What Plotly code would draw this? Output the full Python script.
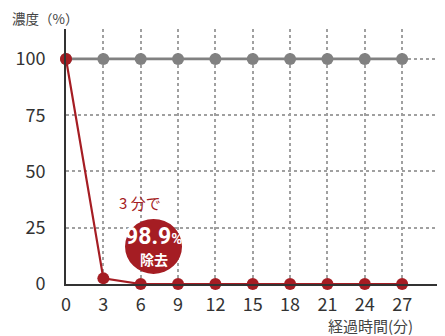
import plotly.graph_objects as go

minutes = [0, 3, 6, 9, 12, 15, 18, 21, 24, 27]
control = [100, 100, 100, 100, 100, 100, 100, 100, 100, 100]
treated = [100, 2.5, 0, 0, 0, 0, 0, 0, 0, 0]
y_ticks = [0, 25, 50, 75, 100]

RED = "#a51d23"
GRAY = "#818181"
FONT = "Noto Sans CJK JP, Noto Sans, sans-serif"

fig = go.Figure()
fig.add_trace(go.Scatter(x=minutes, y=control, mode="lines+markers",
                         line=dict(color=GRAY, width=2.8),
                         marker=dict(color=GRAY, size=12),
                         cliponaxis=False, showlegend=False))
fig.add_trace(go.Scatter(x=minutes, y=treated, mode="lines+markers",
                         line=dict(color=RED, width=2.2),
                         marker=dict(color=RED, size=12),
                         cliponaxis=False, showlegend=False))

# badge
bx, by = 7.03, 16.7
fig.add_shape(type="circle", xref="x", yref="y", xsizemode="pixel", ysizemode="pixel",
              xanchor=bx, yanchor=by, x0=-28.5, x1=28.5, y0=-27.5, y1=27.5,
              fillcolor=RED, line=dict(width=0), layer="above")

fig.add_annotation(x=bx, y=21.0, xref="x", yref="y", showarrow=False,
                   text="<b>98.9<span style='font-size:15px'>%</span></b>",
                   font=dict(family="Roboto, " + FONT, size=23, color="white"),
                   xanchor="center", yanchor="middle")
fig.add_annotation(x=bx, y=11.3, xref="x", yref="y", showarrow=False,
                   text="<b>除去</b>",
                   font=dict(family=FONT, size=14, color="white"),
                   xanchor="center", yanchor="middle")
fig.add_annotation(x=5.95, y=36.4, xref="x", yref="y", showarrow=False,
                   text="3 分で",
                   font=dict(family=FONT, size=15, color=RED),
                   xanchor="center", yanchor="middle")

fig.add_annotation(x=-0.057, y=1.043, xref="paper", yref="paper", showarrow=False,
                   text="濃度（%）", font=dict(family=FONT, size=13.5, color="#444"),
                   xanchor="center", yanchor="middle")
fig.add_annotation(x=0.822, y=-0.161, xref="paper", yref="paper", showarrow=False,
                   text="経過時間(分)", font=dict(family=FONT, size=15, color="#444"),
                   xanchor="center", yanchor="middle")

fig.update_xaxes(range=[0, 29.8], tickvals=minutes, ticktext=[str(m) for m in minutes],
                 showline=True, linecolor="#333", linewidth=2,
                 showgrid=True, gridcolor="#a0a0a0", gridwidth=1.5, griddash="dot",
                 zeroline=False, ticks="", ticklabelstandoff=3,
                 tickfont=dict(family=FONT, size=18, color="#333"))
fig.update_yaxes(range=[0, 113.3], tickvals=y_ticks,
                 showline=True, linecolor="#333", linewidth=2,
                 showgrid=True, gridcolor="#a0a0a0", gridwidth=1.5, griddash="dot",
                 zeroline=False, ticks="", ticklabelstandoff=15,
                 tickfont=dict(family=FONT, size=18, color="#333"))

fig.update_layout(width=445, height=336, margin=dict(l=66, r=8, t=29, b=52),
                  plot_bgcolor="white", paper_bgcolor="white")
fig.write_html("out.html")
